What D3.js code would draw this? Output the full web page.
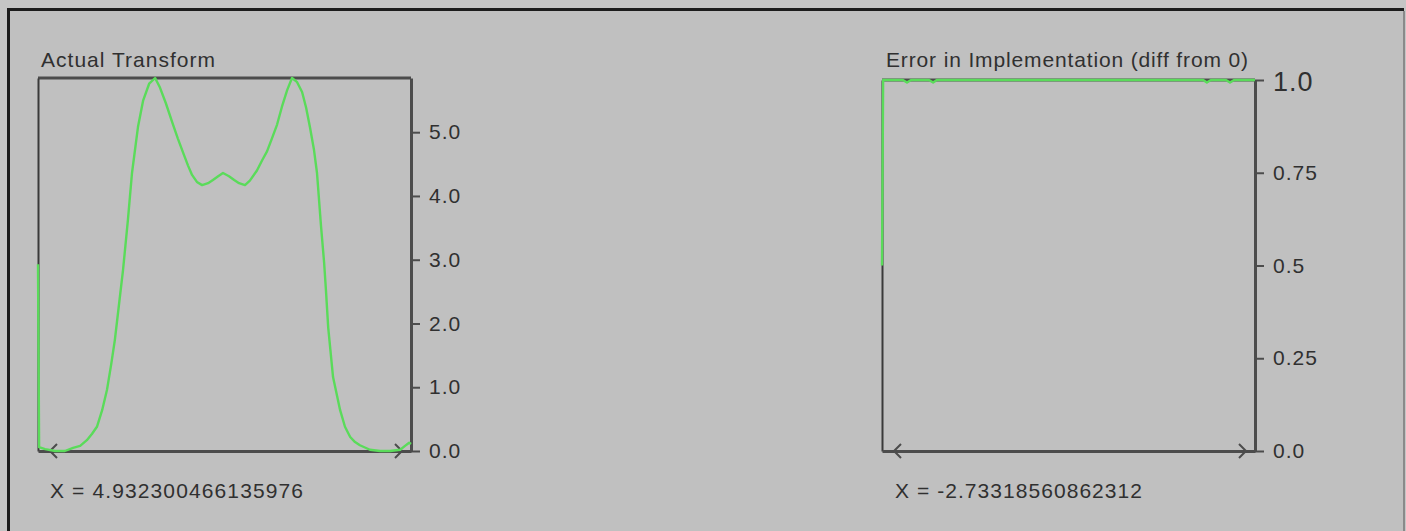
<!DOCTYPE html>
<html><head><meta charset="utf-8">
<script src="https://cdn.jsdelivr.net/npm/d3@7"></script>
<style>
body{margin:0;background:#c5c5c5;}
svg{display:block;}
text{font-family:"Liberation Sans",Arial,sans-serif;fill:#303030;}
</style></head><body>
<svg id="c" width="1406" height="531"></svg>
<script>
// ---- data (x in % of the frequency range) ----
const transformX = [0,0.3,1.9,4.6,7.2,9.4,11.3,13.1,14.5,15.8,17.2,18.5,19.6,20.6,21.7,22.8,24.1,25.2,26.8,28.2,29.8,31.4,32.7,34.3,36.2,37.5,38.9,40.2,41.3,42.6,44.0,45.6,46.9,48.3,49.6,51.2,52.6,53.9,55.5,56.8,58.7,60.1,61.4,62.7,64.1,65.4,66.8,68.1,69.4,70.8,71.9,72.9,74.0,74.8,75.9,76.7,77.2,77.8,79.1,81.0,82.3,83.7,85.0,86.3,89.0,91.7,94.4,97.1,98.4,99.5,100];
const transformY = [2.93,0.06,0.03,0,0,0.05,0.08,0.17,0.27,0.38,0.64,0.96,1.35,1.74,2.29,2.84,3.62,4.36,5.08,5.50,5.76,5.85,5.70,5.45,5.12,4.90,4.68,4.48,4.33,4.22,4.17,4.20,4.25,4.31,4.36,4.31,4.25,4.20,4.17,4.24,4.40,4.56,4.70,4.90,5.12,5.40,5.66,5.85,5.79,5.63,5.38,5.08,4.72,4.36,3.51,2.96,2.52,1.94,1.16,0.64,0.38,0.22,0.14,0.09,0.02,0,0,0.02,0.08,0.13,0.11];
const errorX = [0,0.3,5.6,6.7,7.8,12.6,13.7,14.7,86.1,87.1,88.2,92.2,93.3,94.4,100];
const errorY = [0.5,1.0,1.0,0.993,1.0,1.0,0.993,1.0,1.0,0.993,1.0,1.0,0.993,1.0,1.0];
const transformTicks = [0,1,2,3,4,5];
const transformTickLabels = ["0.0","1.0","2.0","3.0","4.0","5.0"];
const errorTicks = [0,0.25,0.5,0.75,1.0];
const errorTickLabels = ["0.0","0.25","0.5","0.75","1.0"];
const titles = ["Actual Transform","Error in Implementation (diff from 0)"];
const xReadouts = ["X = 4.932300466135976","X = -2.73318560862312"];
const transformMax = 5.85;
const errorMax = 1.0;

const svg = d3.select("#c");
// outer window frame
svg.append("rect").attr("x",8.5).attr("y",9.5).attr("width",1395).attr("height",540)
  .attr("fill","#c0c0c0").attr("stroke","none");
svg.append("line").attr("x1",7).attr("x2",1404).attr("y1",9.5).attr("y2",9.5).attr("stroke","#1c1c1c").attr("stroke-width",3);
svg.append("line").attr("x1",8.5).attr("x2",8.5).attr("y1",8).attr("y2",531).attr("stroke","#1c1c1c").attr("stroke-width",3);
svg.append("line").attr("x1",1404).attr("x2",1404).attr("y1",11).attr("y2",531).attr("stroke","#8a8a8a").attr("stroke-width",2);

const AX = "#4c4c4c";
const GREEN = "#5adb5a";

function panel(cfg){
  const x = d3.scaleLinear().domain([0,100]).range([cfg.x0,cfg.x1]);
  const y = d3.scaleLinear().domain([0,cfg.ymax]).range([cfg.y1,cfg.y0]);
  const g = svg.append("g");
  // top border
  g.append("line").attr("x1",cfg.x0).attr("x2",cfg.x1).attr("y1",cfg.y0).attr("y2",cfg.y0)
    .attr("stroke",AX).attr("stroke-width",3);
  // left axis line
  const la = g.append("g").attr("transform",`translate(${cfg.x0},0)`)
    .call(d3.axisLeft(y).tickValues([]).tickSizeOuter(0));
  la.select(".domain").attr("stroke","#3a3a3a").attr("stroke-width",2);
  // bottom axis
  const ba = g.append("g").attr("transform",`translate(0,${cfg.y1})`)
    .call(d3.axisBottom(x).tickValues([]).tickSizeOuter(0));
  ba.select(".domain").attr("stroke",AX).attr("stroke-width",3);
  // arrows
  const [r0,r1] = x.range();
  const yb = cfg.y1;
  g.append("path").attr("d",`M${r0+19},${yb-7}L${r0+12},${yb}L${r0+19},${yb+7}`)
    .attr("fill","none").attr("stroke",AX).attr("stroke-width",2);
  g.append("path").attr("d",`M${r1-16},${yb-7}L${r1-9},${yb}L${r1-16},${yb+7}`)
    .attr("fill","none").attr("stroke",AX).attr("stroke-width",2);
  // right axis with ticks
  const ra = g.append("g").attr("transform",`translate(${cfg.x1},0)`)
    .call(d3.axisRight(y).tickValues(cfg.ticks).tickFormat((d,i)=>cfg.labels[i])
      .tickSize(9).tickPadding(9).tickSizeOuter(0));
  ra.select(".domain").attr("stroke",AX).attr("stroke-width",3);
  ra.selectAll(".tick line").attr("stroke",AX).attr("stroke-width",2);
  ra.selectAll(".tick text").attr("font-size",21).attr("letter-spacing","1px")
    .attr("font-family","Liberation Sans, Arial, sans-serif").attr("fill","#303030");
  if(cfg.bigTop){
    ra.selectAll(".tick").filter(d=>d===cfg.ymax).select("text")
      .attr("font-size",27).attr("fill","#1c1c1c").attr("dy","0.38em");
  }
  // curve
  const data = cfg.xs.map((v,i)=>[v,cfg.ys[i]]);
  g.append("path").datum(data)
    .attr("d",d3.line().x(d=>x(d[0])).y(d=>y(d[1])).curve(d3.curveLinear))
    .attr("fill","none").attr("stroke",GREEN).attr("stroke-width",2.4)
    .attr("stroke-linejoin","round");
  // texts
  g.append("text").attr("x",cfg.tx).attr("y",67).attr("font-size",21)
    .attr("textLength",cfg.tw).attr("lengthAdjust","spacing").text(cfg.title);
  g.append("text").attr("x",cfg.rx).attr("y",498).attr("font-size",21)
    .attr("textLength",cfg.rw).attr("lengthAdjust","spacing").text(cfg.readout);
}

panel({x0:38,x1:411,y0:78,y1:451,ymax:transformMax,xs:transformX,ys:transformY,
  ticks:transformTicks,labels:transformTickLabels,title:titles[0],readout:xReadouts[0],
  tx:41,tw:174,rx:50,rw:253,bigTop:false});
panel({x0:882,x1:1255,y0:80,y1:451,ymax:errorMax,xs:errorX,ys:errorY,
  ticks:errorTicks,labels:errorTickLabels,title:titles[1],readout:xReadouts[1],
  tx:886,tw:362,rx:895,rw:247,bigTop:true});
</script>
</body></html>
